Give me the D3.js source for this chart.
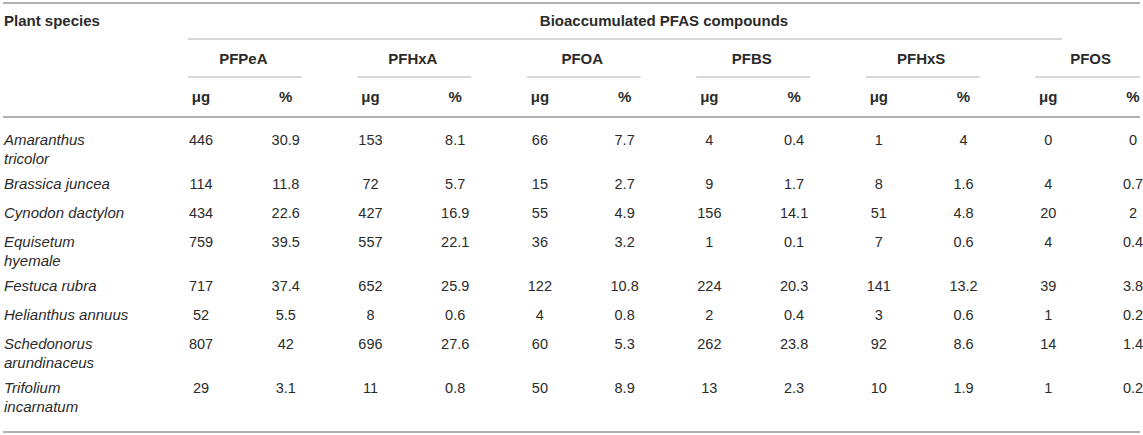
<!DOCTYPE html>
<html lang="en">

<head>
    <meta charset="UTF-8">
    <title>Bioaccumulated PFAS compounds</title>
    <script src="https://d3js.org/d3.v7.min.js"></script>
    <style>
        body { margin: 0; background: #fff; }
        text { font-family: "Liberation Sans", Arial, sans-serif; fill: #2b2b2b; }
    </style>
</head>

<body>
    <script>
        const width = 1143;
        const height = 435;

        // table data
        const species = ["Amaranthus tricolor", "Brassica juncea", "Cynodon dactylon", "Equisetum hyemale",
            "Festuca rubra", "Helianthus annuus", "Schedonorus arundinaceus", "Trifolium incarnatum"];
        const compounds = ["PFPeA", "PFHxA", "PFOA", "PFBS", "PFHxS", "PFOS"];
        const units = ["μg", "%"];

        const PFPeA_ug = [446, 114, 434, 759, 717, 52, 807, 29];
        const PFPeA_pct = [30.9, 11.8, 22.6, 39.5, 37.4, 5.5, 42, 3.1];
        const PFHxA_ug = [153, 72, 427, 557, 652, 8, 696, 11];
        const PFHxA_pct = [8.1, 5.7, 16.9, 22.1, 25.9, 0.6, 27.6, 0.8];
        const PFOA_ug = [66, 15, 55, 36, 122, 4, 60, 50];
        const PFOA_pct = [7.7, 2.7, 4.9, 3.2, 10.8, 0.8, 5.3, 8.9];
        const PFBS_ug = [4, 9, 156, 1, 224, 2, 262, 13];
        const PFBS_pct = [0.4, 1.7, 14.1, 0.1, 20.3, 0.4, 23.8, 2.3];
        const PFHxS_ug = [1, 8, 51, 7, 141, 3, 92, 10];
        const PFHxS_pct = [4, 1.6, 4.8, 0.6, 13.2, 0.6, 8.6, 1.9];
        const PFOS_ug = [0, 4, 20, 4, 39, 1, 14, 1];
        const PFOS_pct = [0, 0.7, 2, 0.4, 3.8, 0.2, 1.4, 0.2];

        const values = {
            PFPeA: [PFPeA_ug, PFPeA_pct], PFHxA: [PFHxA_ug, PFHxA_pct], PFOA: [PFOA_ug, PFOA_pct],
            PFBS: [PFBS_ug, PFBS_pct], PFHxS: [PFHxS_ug, PFHxS_pct], PFOS: [PFOS_ug, PFOS_pct]
        };

        const fontSize = 15;
        const numSize = 14.5;
        const lineH = 19;
        const rowPad = 6, minRow = 29;
        const left = 4, right = 1140;

        const svg = d3.select("body").append("svg")
            .attr("width", width)
            .attr("height", height)
            .style("font-size", fontSize + "px");

        // one column per compound/unit pair
        const cols = compounds.flatMap(c => units.map(u => c + "|" + u));
        const x = d3.scalePoint().domain(cols).range([201, 1133]);

        const line = (x1, x2, y, w) => svg.append("line")
            .attr("x1", x1).attr("x2", x2).attr("y1", y).attr("y2", y)
            .attr("stroke", "#b0b0b0").attr("stroke-width", w);

        // header
        line(left - 1, right, 3, 2);
        svg.append("text").attr("x", left).attr("y", 21).attr("dy", "0.35em")
            .attr("font-weight", "bold").text("Plant species");
        svg.append("text").attr("x", (x(cols[0]) - 13 + right) / 2).attr("y", 21).attr("dy", "0.35em")
            .attr("text-anchor", "middle").attr("font-weight", "bold").text("Bioaccumulated PFAS compounds");
        line(x(cols[0]) - 13, x(cols[10]) + 14, 39, 1);

        const grp = svg.selectAll("g.cmp").data(compounds).join("g").attr("class", "cmp");
        grp.append("text")
            .attr("x", d => (x(d + "|μg") + x(d + "|%")) / 2)
            .attr("y", 59).attr("dy", "0.35em")
            .attr("text-anchor", "middle").attr("font-weight", "bold")
            .text(d => d);
        grp.append("line")
            .attr("x1", d => x(d + "|μg") - 13)
            .attr("x2", d => Math.min(x(d + "|%") + 16, right))
            .attr("y1", 77).attr("y2", 77)
            .attr("stroke", "#b0b0b0").attr("stroke-width", 1);

        svg.selectAll("text.unit").data(cols).join("text").attr("class", "unit")
            .attr("x", d => x(d)).attr("y", 97).attr("dy", "0.35em")
            .attr("text-anchor", "middle").attr("font-weight", "bold")
            .text(d => d.split("|")[1]);

        const headBottom = 117;
        line(left - 1, right, headBottom, 2);

        // wrap species names to the first column width
        const maxW = fontSize * 8.5;
        const probe = svg.append("text").attr("font-style", "italic");
        const wrapped = species.map(s => {
            const words = s.split(" ");
            const out = [];
            let cur = "";
            words.forEach(w => {
                const t = cur ? cur + " " + w : w;
                probe.text(t);
                if (cur && probe.node().getComputedTextLength() > maxW) { out.push(cur); cur = w; }
                else cur = t;
            });
            out.push(cur);
            return out;
        });
        probe.remove();

        // row tops from the number of lines in each row
        const rowH = wrapped.map(l => Math.max(minRow, l.length * lineH + rowPad));
        const firstY = headBottom + 23;
        const rowY = rowH.map((h, i) => firstY + d3.sum(rowH.slice(0, i)));

        const row = svg.selectAll("g.row").data(species).join("g").attr("class", "row")
            .attr("transform", (d, i) => `translate(0,${rowY[i]})`);

        row.append("text")
            .attr("x", left)
            .attr("font-style", "italic")
            .selectAll("tspan")
            .data((d, i) => wrapped[i])
            .join("tspan")
            .attr("x", left)
            .attr("y", (d, i) => i * lineH)
            .attr("dy", "0.35em")
            .text(d => d);

        row.selectAll("text.val")
            .data((d, i) => cols.map(c => {
                const [cmp, u] = c.split("|");
                return { col: c, v: values[cmp][units.indexOf(u)][i] };
            }))
            .join("text").attr("class", "val")
            .attr("x", d => x(d.col))
            .attr("dy", "0.35em")
            .attr("text-anchor", "middle")
            .style("font-size", numSize + "px")
            .text(d => d.v);

        line(left - 1, right, height - 3, 2);
    </script>
</body>

</html>
